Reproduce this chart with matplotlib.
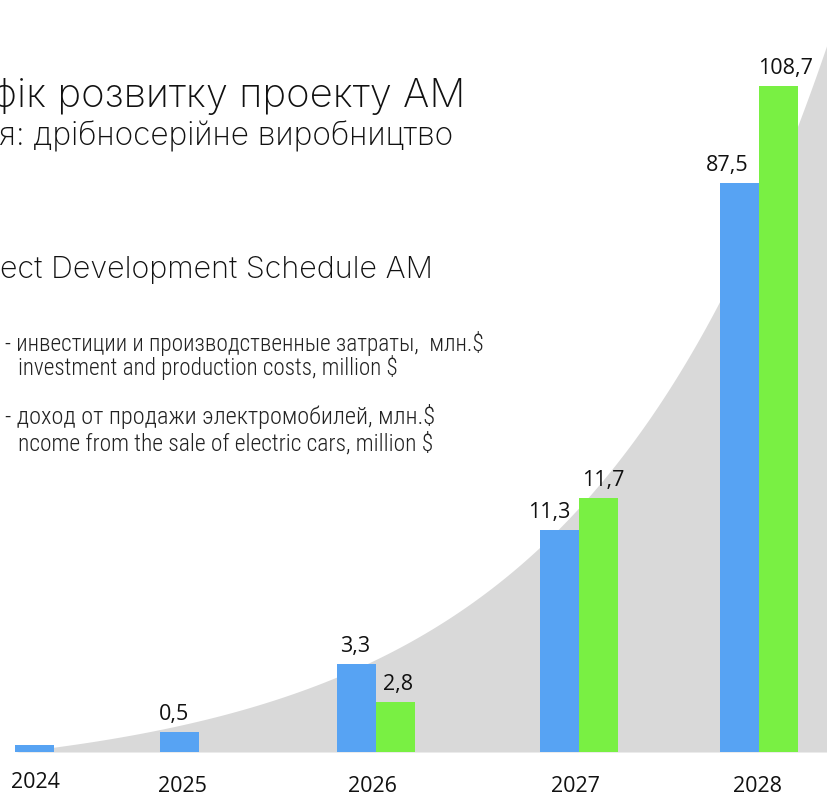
import numpy as np
import matplotlib
matplotlib.use("Agg")
import matplotlib.pyplot as plt
from matplotlib import font_manager

# данные с картинки
years = ["2024", "2025", "2026", "2027", "2028"]
costs = [0.2, 0.5, 3.3, 11.3, 87.5]          # инвестиции и затраты, млн.$
income_years = ["2026", "2027", "2028"]
income = [2.8, 11.7, 108.7]                    # доход от продажи, млн.$
cost_labels = ["", "0,5", "3,3", "11,3", "87,5"]
income_labels = ["2,8", "11,7", "108,7"]

# оформление
BLUE = "#57A3F3"
GREEN = "#79F043"
GRAY = "#D9D9D9"
W, H = 827, 797
BASE = 752                 # нижняя линия столбцов (пиксели сверху)
BAR_W = 39
cost_x = [34, 179, 356, 559, 739]
income_x = [395, 598, 778]
year_x = [35, 182, 372, 575, 758]
year_y = [788, 792, 792, 792, 792]
cost_dx = [0, -5, -1, -10, -12]
income_dx = [3, 5, 8]

# шкала на картинке не линейная: подгоняем по узлам
knot_v = np.array([0, 0.2, 0.5, 2.8, 3.3, 11.3, 11.7, 87.5, 108.7, 150])
knot_p = np.array([0, 7, 20, 50, 88, 222, 254, 569, 666, 752])


def fwd(v):
    return np.interp(v, knot_v, knot_p)


def inv(p):
    return np.interp(p, knot_p, knot_v)


# узкий шрифт для легенды, если есть
names = {f.name for f in font_manager.fontManager.ttflist}
narrow = next((n for n in ["Roboto Condensed", "Liberation Sans Narrow",
                           "Open Sans Condensed", "Noto Sans Condensed"] if n in names), None)
if narrow:
    leg_font = dict(family=[narrow, "DejaVu Sans"], weight="light")
elif any(f.name == "DejaVu Sans" and "condensed" in str(f.stretch)
         for f in font_manager.fontManager.ttflist):
    leg_font = dict(family=["DejaVu Sans"], stretch="condensed")
else:
    leg_font = dict(family=["Roboto", "DejaVu Sans"], weight="light")

fig = plt.figure(figsize=(W / 100, H / 100), dpi=100)
renderer = fig.canvas.get_renderer()


def fit_width(t, width):
    # подгоняем кегль под ширину строки на картинке
    w = t.get_window_extent(renderer).width
    t.set_fontsize(t.get_fontsize() * width / w)


# фон и текст в пиксельных координатах
bg = fig.add_axes([0, 0, 1, 1])
bg.set_xlim(0, W)
bg.set_ylim(H, 0)
bg.axis("off")

xs = np.linspace(15, W, 400)
hs = 28.6 * (np.exp(0.004 * (xs - 15)) - 1)
bg.fill_between(xs, BASE, BASE - hs, color=GRAY, lw=0, zorder=0)

title_font = dict(family=["Inter", "DejaVu Sans"], weight="light", color="#111111",
                  ha="right", va="baseline", fontsize=24)
t1 = bg.text(465, 107, "фік розвитку проекту АМ", **title_font)
t2 = bg.text(453, 145, "я: дрібносерійне виробництво", **title_font)
t3 = bg.text(433, 278, "ect Development Schedule AM", **title_font)
fit_width(t1, 474)
fit_width(t2, 455)
fit_width(t3, 434)

legend_lines = [
    (5, 351, 480, "- инвестиции и производственные затраты,  млн.$"),
    (18, 375, 381, "investment and production costs, million $"),
    (5, 424, 432, "- доход от продажи электромобилей, млн.$"),
    (18, 451, 415, "ncome from the sale of electric cars, million $"),
]
for x, y, w, s in legend_lines:
    t = bg.text(x, y, s, color="#222222", fontsize=15, va="baseline", ha="left",
                **leg_font)
    fit_width(t, w)

for x, y, yr in zip(year_x, year_y, years):
    bg.text(x, y, yr, ha="center", va="baseline", fontsize=15.5,
            family=["Open Sans", "DejaVu Sans"], color="#111111")

# столбцы
ax = fig.add_axes([0, (H - BASE) / H, 1, BASE / H])
ax.patch.set_alpha(0)
ax.set_xlim(0, W)
ax.set_yscale("function", functions=(fwd, inv))
ax.set_ylim(0, 150)
ax.axis("off")

ax.bar(cost_x, costs, width=BAR_W, color=BLUE, lw=0)
ax.bar(income_x, income, width=BAR_W, color=GREEN, lw=0)

num_font = dict(family=["Open Sans", "DejaVu Sans"], fontsize=15.5, color="#111111",
                ha="center", va="baseline", textcoords="offset pixels")
for x, v, lab, dx in zip(cost_x, costs, cost_labels, cost_dx):
    if lab:
        ax.annotate(lab, (x, v), xytext=(dx, 12), **num_font)
for x, v, lab, dx in zip(income_x, income, income_labels, income_dx):
    ax.annotate(lab, (x, v), xytext=(dx, 12), **num_font)

fig.savefig("out.png", dpi=100)
